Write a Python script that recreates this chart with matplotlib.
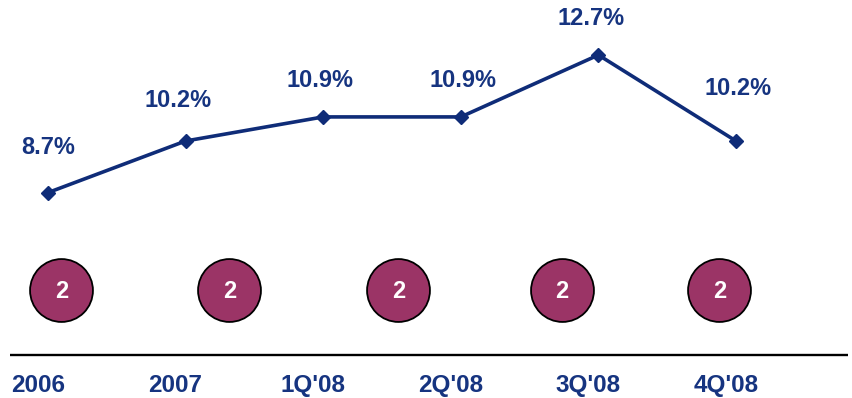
import matplotlib.pyplot as plt

categories = ["2006", "2007", "1Q'08", "2Q'08", "3Q'08", "4Q'08"]
values = [8.7, 10.2, 10.9, 10.9, 12.7, 10.2]
value_labels = ["8.7%", "10.2%", "10.9%", "10.9%", "12.7%", "10.2%"]
badges = ["2", "2", "2", "2", "2"]

navy = "#0f2c78"
text_navy = "#163480"
maroon = "#9b3466"

plt.rcParams["font.family"] = ["Liberation Sans", "DejaVu Sans"]
plt.rcParams["font.weight"] = "bold"

W, H = 853, 398
fig = plt.figure(figsize=(W / 100, H / 100), dpi=100)
ax = fig.add_axes([0, 0, 1, 1])
ax.axis("off")

x = list(range(len(categories)))
ax.set_xlim(-48 / 137.6, (W - 48) / 137.6)
ax.set_ylim(10.2 - (H - 141) / 34.4, 10.2 + 141 / 34.4)

ax.plot(x, values, color=navy, lw=2.6, marker="D", ms=7.5, mfc=navy, mec=navy)

# label offsets (pixels) from each point
label_dx = [0, -8, -3, 2, -7, 2]
label_dy = [39, 34, 30, 30, 30, 46]
for i, (v, lab) in enumerate(zip(values, value_labels)):
    ax.annotate(lab, (i, v), xytext=(label_dx[i], label_dy[i]),
                textcoords="offset pixels", ha="center", va="baseline",
                fontsize=17, fontweight="bold", color=text_navy)

# baseline rule
ax.plot([10 / W, 848 / W], [1 - 355 / H, 1 - 355 / H], color="black",
        lw=1.7, transform=ax.transAxes, solid_capstyle="butt")

# category labels under the rule
for i, c in enumerate(categories):
    ax.annotate(c, (i, 0), xycoords=("data", "axes fraction"),
                xytext=(-10, 6), textcoords="offset pixels",
                ha="center", va="baseline", fontsize=17.5,
                fontweight="bold", color=text_navy)

# maroon badges
badge_x = [61.5, 229.5, 398.5, 561.5, 719.5]
for bx, b in zip(badge_x, badges):
    ax.scatter([bx / W], [1 - 290 / H], s=2050, color=maroon,
               edgecolor="black", linewidth=1.3, transform=ax.transAxes,
               zorder=3)
    ax.text(bx / W, 1 - 298 / H, b, transform=ax.transAxes, ha="center",
            va="baseline", fontsize=17, fontweight="bold", color="white",
            zorder=4)

fig.savefig("out.png", dpi=100)
